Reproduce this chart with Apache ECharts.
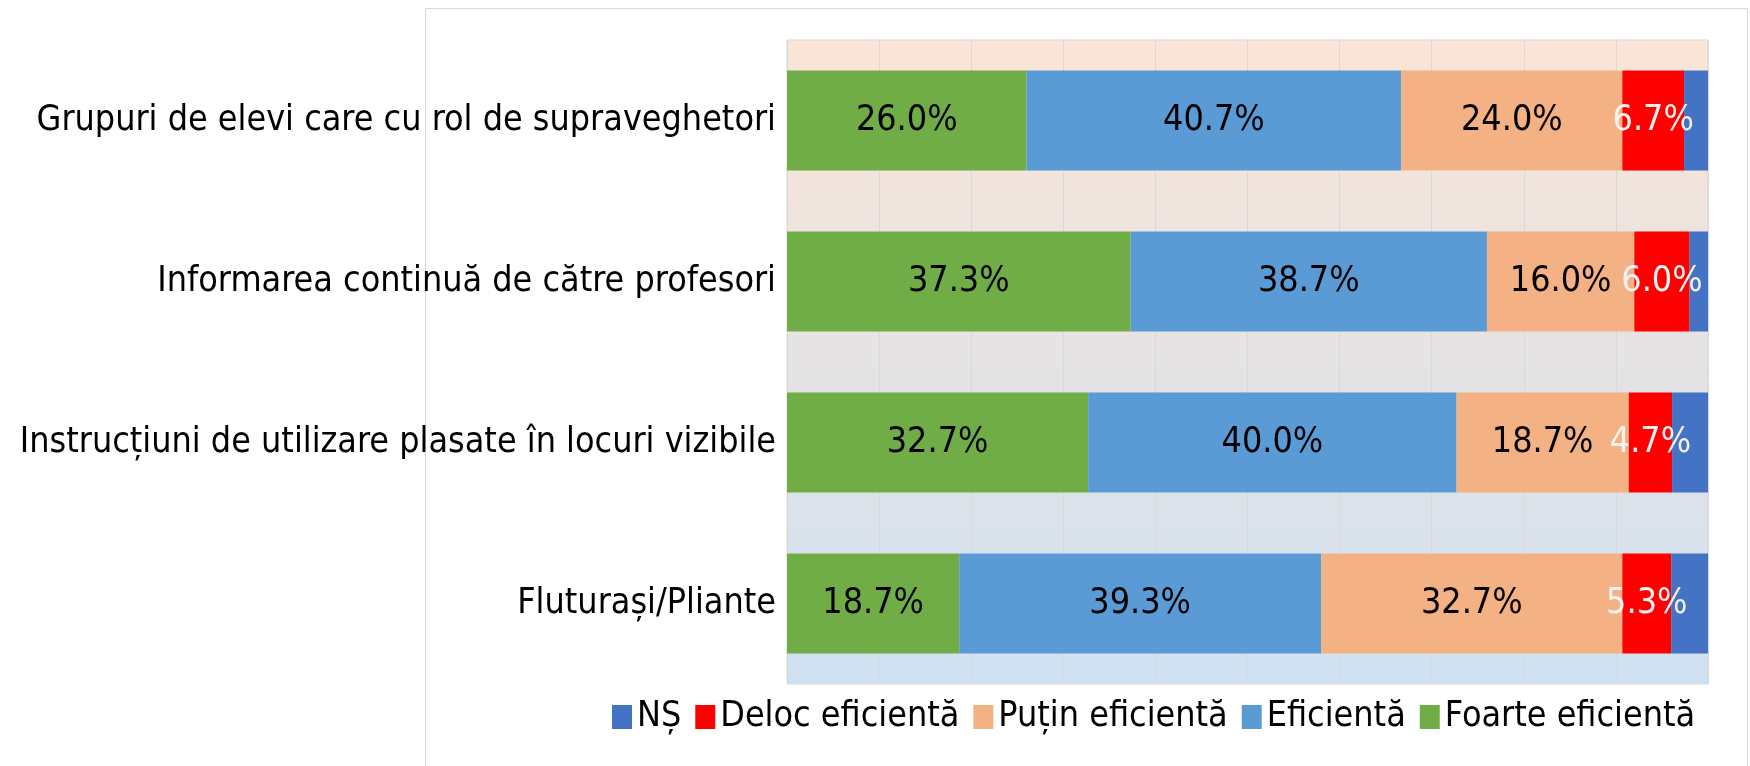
<!DOCTYPE html>
<html><head><meta charset="utf-8">
<script src="https://cdn.jsdelivr.net/npm/echarts@6/dist/echarts.min.js"></script>
<style>html,body{margin:0;padding:0;background:#fff}#c{width:1750px;height:766px}</style>
</head><body><div id="c"></div>
<script>
const categories = ['Grupuri de elevi care cu rol de supraveghetori', 'Informarea continuă de către profesori', 'Instrucțiuni de utilizare plasate în locuri vizibile', 'Fluturași/Pliante'];
const foarteEficienta = [26.0, 37.3, 32.7, 18.7];
const eficienta = [40.7, 38.7, 40.0, 39.3];
const putinEficienta = [24.0, 16.0, 18.7, 32.7];
const delocEficienta = [6.7, 6.0, 4.7, 5.3];
const ns = [2.7, 2.0, 4.0, 4.0];
const legendOrder = ['NȘ', 'Deloc eficientă', 'Puțin eficientă', 'Eficientă', 'Foarte eficientă'];

const FONT = "'DejaVu Sans Condensed', 'DejaVu Sans', sans-serif";
const FS = 35.6;
const chart = echarts.init(document.getElementById('c'), null, {renderer: 'canvas'});
const fmt = p => p.value.toFixed(1) + '%';
function mk(name, data, color, labelColor, showLabel) {
  return {
    name, type: 'bar', stack: 'total', data, barWidth: 100,
    itemStyle: {color},
    label: {show: showLabel, position: 'inside', formatter: fmt, color: labelColor, fontSize: FS, fontFamily: FONT},
    emphasis: {disabled: true}
  };
}
chart.setOption({
  animation: false,
  backgroundColor: '#fff',
  textStyle: {fontFamily: FONT},
  graphic: [{type: 'rect', shape: {x: 425.5, y: 8.5, width: 1322, height: 800}, style: {fill: 'none', stroke: '#D9D9D9', lineWidth: 1}, z: -1}],
  grid: {
    left: 787, right: 42, top: 40, bottom: 82, show: true, borderColor: '#D9D9D9', borderWidth: 1,
    backgroundColor: new echarts.graphic.LinearGradient(0, 0, 0, 1, [{offset: 0, color: '#FBE5D6'}, {offset: 1, color: '#CFE1F2'}])
  },
  legend: {
    data: legendOrder, left: 607, top: 694, itemWidth: 20, itemHeight: 24, itemGap: 14, icon: 'rect',
    textStyle: {fontSize: FS, color: '#000', fontFamily: FONT}
  },
  xAxis: {
    type: 'value', min: 0, max: 100, interval: 10,
    axisLabel: {show: false}, axisLine: {show: false}, axisTick: {show: false},
    splitLine: {show: true, lineStyle: {color: '#D9D9D9', width: 1}}
  },
  yAxis: {
    type: 'category', data: categories, inverse: true,
    axisLine: {show: false}, axisTick: {show: false},
    axisLabel: {fontSize: FS, color: '#000', margin: 11, fontFamily: FONT}
  },
  series: [
    mk('Foarte eficientă', foarteEficienta, '#70AD47', '#000', true),
    mk('Eficientă', eficienta, '#5B9BD5', '#000', true),
    mk('Puțin eficientă', putinEficienta, '#F4B183', '#000', true),
    mk('Deloc eficientă', delocEficienta, '#FF0000', '#F2F2F2', true),
    mk('NȘ', ns, '#4472C4', '#000', false)
  ]
});
</script></body></html>
